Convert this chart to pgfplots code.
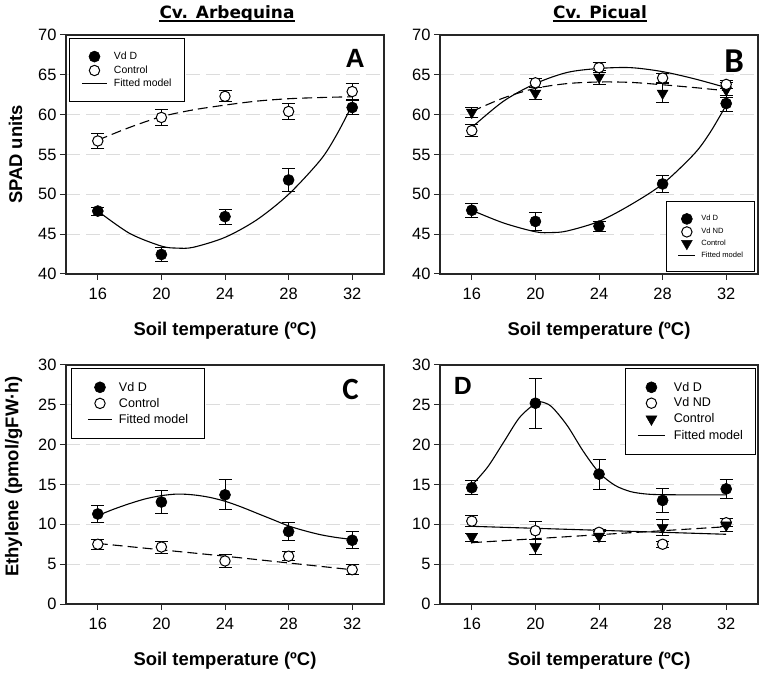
\documentclass[border=0pt]{standalone}
\usepackage{fontspec}
\setmainfont{Liberation Sans}
\newfontfamily\titlefont{DejaVu Sans}
\newfontfamily\calfont{Carlito}
\usepackage{pgfplots}
\usepackage{pgfplotstable}
\pgfplotsset{compat=1.18}

\definecolor{gridgray}{RGB}{220,220,220}

% measured points: t = soil temperature, m = mean, e = error
\pgfplotstableread{
t  m    e
16 47.9 0.5
20 42.45 0.85
24 47.2 0.95
28 51.8 1.5
32 60.9 0.9
}\AvdD
\pgfplotstableread{
t  m    e
16 56.7 0.95
20 59.65 1.0
24 62.3 0.7
28 60.4 1.05
32 62.9 1.0
}\Actrl
\pgfplotstableread{
t  m    e
16 48.0 0.9
20 46.6 1.1
24 46.0 0.65
28 51.3 1.05
32 61.4 0.95
}\BvdD
\pgfplotstableread{
t  m    e
16 58.0 0.8
20 64.0 0.6
24 65.9 0.6
28 64.6 0.6
32 63.8 0.5
}\BvdND
\pgfplotstableread{
t  m    e
16 60.3 0.6
20 62.7 0.75
24 64.7 0.9
28 62.7 1.15
32 63.1 0.9
}\Bctrl
\pgfplotstableread{
t  m    e
16 11.3 1.1
20 12.8 1.4
24 13.7 1.9
28 9.1 1.1
32 8.0 1.05
}\CvdD
\pgfplotstableread{
t  m    e
16 7.5 0.6
20 7.15 0.75
24 5.4 0.8
28 6.0 0.6
32 4.3 0.65
}\Cctrl
\pgfplotstableread{
t  m    e
16 14.6 0.9
20 25.2 3.15
24 16.3 1.9
28 13.0 1.5
32 14.45 1.2
}\DvdD
\pgfplotstableread{
t  m    e
16 10.4 0.65
20 9.2 1.1
24 9.0 0.35
28 7.5 0.4
32 10.2 0.5
}\DvdND
\pgfplotstableread{
t  m    e
16 8.4 0.5
20 7.2 0.95
24 8.5 0.6
28 9.6 0.95
32 9.9 0.8
}\Dctrl

\pgfplotsset{
  panel/.style={
    scale only axis, width=318bp, height=239bp,
    xmin=14, xmax=34, xtick={16,20,24,28,32},
    axis line style={line width=1.1bp, black!85},
    tick style={line width=1bp, black!85},
    tick align=outside, major tick length=6bp,
    xtick pos=bottom, ytick pos=left,
    ymajorgrids, major grid style={gridgray, dash pattern=on 14bp off 6bp, line width=1bp},
    ticklabel style={font=\fontsize{16.5}{18}\selectfont},
    xticklabel style={yshift=-5bp},
    /pgf/number format/assume math mode=true,
    label style={font=\bfseries\fontsize{18.5}{20}\selectfont},
    xlabel={Soil temperature (ºC)},
    xlabel style={at={(axis description cs:0.5,0)}, anchor=north, inner sep=0pt, yshift=-48bp},
    ylabel style={at={(axis description cs:-0.137,0.5)}, anchor=south, inner sep=0pt},
    legend cell align=left,
  },
  fit/.style={smooth, black, line width=1.1bp, no markers, forget plot},
  fitd/.style={fit, dash pattern=on 10bp off 5bp},
  pts/.style={only marks, forget plot, black,
    error bars/y dir=both, error bars/y explicit,
    error bars/error bar style={line width=1bp, black},
    error bars/error mark options={rotate=90, mark size=6.5bp, line width=1bp, black}},
  vdd/.style={mark=*, mark size=5.5bp, mark options={fill=black, draw=black, line width=0.6bp}},
  vdnd/.style={mark=*, mark size=5.2bp, mark options={fill=white, draw=black, line width=1bp}},
  ctrl/.style={mark=triangle*, mark size=6.3bp, mark options={rotate=180, fill=black, draw=black, line width=0.5bp}},
  legmark/.style={legend image code/.code={\draw[mark repeat=2,mark phase=2,##1] plot coordinates {(0bp,0bp) (#1,0bp) (#1+#1,0bp)};}},
  legline/.style={legend image code/.code={\draw[##1] (0bp,0bp) -- (#1,0bp);}},
}

\begin{document}
\begin{tikzpicture}
\useasboundingbox (0,0) rectangle (763bp,674bp);

% ---------- A ----------
\begin{axis}[panel, at={(66bp,400bp)}, anchor=south west,
  ymin=40, ymax=70, ytick={40,45,...,70},
  ylabel={SPAD units},
  legend style={at={(0.0094,0.987)}, anchor=north west, draw=black, line width=1bp,
    font=\fontsize{10.5}{12}\selectfont, inner xsep=12bp, inner ysep=12.5bp,
    row sep=3.2bp, column sep=6bp, nodes={inner sep=0.5bp}}]
\addplot[fitd] coordinates {(16,56.8) (18,58.4) (20,59.75) (22,60.6) (24,61.2) (26,61.7) (28,62.0) (30,62.15) (32,62.25)};
\addplot[fit] coordinates {(16,47.9) (18,45.1) (20,43.5) (21,43.25) (22,43.35) (24,44.6) (26,46.8) (28,50.0) (30,54.3) (31,57.4) (32,61.2)};
\addplot[pts, vdd] table[x=t, y=m, y error=e] {\AvdD};
\addplot[pts, vdnd] table[x=t, y=m, y error=e] {\Actrl};
\addlegendimage{only marks, vdd, legmark=12.5bp}
\addlegendentry{Vd D}
\addlegendimage{only marks, vdnd, legmark=12.5bp}
\addlegendentry{Control}
\addlegendimage{black, line width=1bp, legline=25bp}
\addlegendentry{Fitted model}
\node[anchor=base, inner sep=0pt, font=\bfseries\fontsize{26.5}{28}\selectfont] at (rel axis cs:0.909,0.866) {A};
\end{axis}

% ---------- B ----------
\begin{axis}[panel, at={(440bp,400bp)}, anchor=south west,
  ymin=40, ymax=70, ytick={40,45,...,70},
  legend style={at={(0.9906,0.0084)}, anchor=south east, draw=black, line width=1bp,
    font=\fontsize{7.6}{9}\selectfont, inner xsep=11bp, inner ysep=11.5bp,
    row sep=2.3bp, column sep=5bp, nodes={inner sep=0.5bp}}]
\addplot[fitd] coordinates {(16,60.4) (18,62.1) (20,63.3) (22,63.9) (24,64.1) (26,64.05) (28,63.75) (30,63.4) (32,63.0)};
\addplot[fit] coordinates {(16,58.4) (18,61.7) (20,63.9) (22,65.3) (24,65.8) (26,65.9) (28,65.4) (30,64.5) (32,63.4)};
\addplot[fit] coordinates {(16,48.0) (18,46.4) (20,45.3) (21,45.2) (22,45.4) (24,46.6) (26,48.7) (28,51.3) (30,55.1) (31,57.8) (32,61.2)};
\addplot[pts, vdd] table[x=t, y=m, y error=e] {\BvdD};
\addplot[pts, ctrl] table[x=t, y=m, y error=e] {\Bctrl};
\addplot[pts, vdnd] table[x=t, y=m, y error=e] {\BvdND};
\addlegendimage{only marks, vdd, legmark=8.5bp}
\addlegendentry{Vd D}
\addlegendimage{only marks, vdnd, legmark=8.5bp}
\addlegendentry{Vd ND}
\addlegendimage{only marks, ctrl, legmark=8.5bp}
\addlegendentry{Control}
\addlegendimage{black, line width=1bp, legline=17bp}
\addlegendentry{Fitted model}
\node[anchor=base, inner sep=0pt, font=\calfont\bfseries\fontsize{35}{36}\selectfont] at (rel axis cs:0.925,0.841) {B};
\end{axis}

% ---------- C ----------
\begin{axis}[panel, at={(66bp,70bp)}, anchor=south west,
  ymin=0, ymax=30, ytick={0,5,...,30},
  ylabel={Ethylene (pmol/gFW·h)},
  ylabel style={at={(axis description cs:-0.137,0.534)}},
  legend style={at={(0.0157,0.9874)}, anchor=north west, draw=black, line width=1bp,
    font=\fontsize{12.6}{14}\selectfont, inner xsep=16bp, inner ysep=13bp,
    row sep=4.5bp, column sep=6bp, nodes={inner sep=0.5bp}}]
\addplot[fitd] coordinates {(16,7.6) (20,6.8) (24,6.0) (28,5.15) (32,4.3)};
\addplot[fit] coordinates {(16,11.1) (17,11.9) (18,12.6) (19,13.2) (20,13.6) (21,13.8) (22,13.7) (23,13.4) (24,12.9) (25,12.2) (26,11.4) (27,10.6) (28,9.8) (29,9.2) (30,8.7) (31,8.35) (32,8.1)};
\addplot[pts, vdd] table[x=t, y=m, y error=e] {\CvdD};
\addplot[pts, vdnd] table[x=t, y=m, y error=e] {\Cctrl};
\addlegendimage{only marks, vdd, legmark=12bp}
\addlegendentry{Vd D}
\addlegendimage{only marks, vdnd, legmark=12bp}
\addlegendentry{Control}
\addlegendimage{black, line width=1bp, legline=24bp}
\addlegendentry{Fitted model}
\node[anchor=base, inner sep=0pt, font=\calfont\bfseries\fontsize{31}{32}\selectfont] at (rel axis cs:0.895,0.857) {C};
\end{axis}

% ---------- D ----------
\begin{axis}[panel, at={(440bp,70bp)}, anchor=south west,
  ymin=0, ymax=30, ytick={0,5,...,30},
  legend style={at={(0.9937,0.9874)}, anchor=north east, draw=black, line width=1bp,
    font=\fontsize{12.6}{14}\selectfont, inner xsep=12bp, inner ysep=13bp,
    row sep=4.3bp, column sep=8bp, nodes={inner sep=0.5bp}}]
\addplot[fitd] coordinates {(16,7.7) (20,8.2) (24,8.7) (28,9.2) (32,9.7)};
\addplot[fit] coordinates {(16,9.75) (20,9.5) (24,9.25) (28,9.0) (32,8.75)};
\addplot[fit] coordinates {(16,14.9) (17,17.2) (18,20.3) (19,23.4) (20,25.2) (20.3,25.4) (21,24.8) (22,22.4) (23,19.2) (24,16.5) (25,14.9) (26,14.1) (27,13.8) (28,13.72) (30,13.7) (32,13.7)};
\addplot[pts, vdd] table[x=t, y=m, y error=e] {\DvdD};
\addplot[pts, vdnd] table[x=t, y=m, y error=e] {\DvdND};
\addplot[pts, ctrl] table[x=t, y=m, y error=e] {\Dctrl};
\addlegendimage{only marks, vdd, legmark=13.5bp}
\addlegendentry{Vd D}
\addlegendimage{only marks, vdnd, legmark=13.5bp}
\addlegendentry{Vd ND}
\addlegendimage{only marks, ctrl, legmark=13.5bp}
\addlegendentry{Control}
\addlegendimage{black, line width=1bp, legline=27bp}
\addlegendentry{Fitted model}
\node[anchor=base, inner sep=0pt, font=\bfseries\fontsize{25}{26}\selectfont] at (rel axis cs:0.072,0.878) {D};
\end{axis}

% column titles
\node[anchor=base, inner sep=0pt, font=\titlefont\bfseries\fontsize{17}{18}\selectfont] (ta) at (227bp,655.5bp) {Cv. Arbequina};
\draw[line width=1.4bp] ([yshift=-2.6bp]ta.base west) -- ([yshift=-2.6bp]ta.base east);
\node[anchor=base, inner sep=0pt, font=\titlefont\bfseries\fontsize{17}{18}\selectfont] (tb) at (600bp,655.5bp) {Cv. Picual};
\draw[line width=1.4bp] ([yshift=-2.6bp]tb.base west) -- ([yshift=-2.6bp]tb.base east);
\end{tikzpicture}
\end{document}
